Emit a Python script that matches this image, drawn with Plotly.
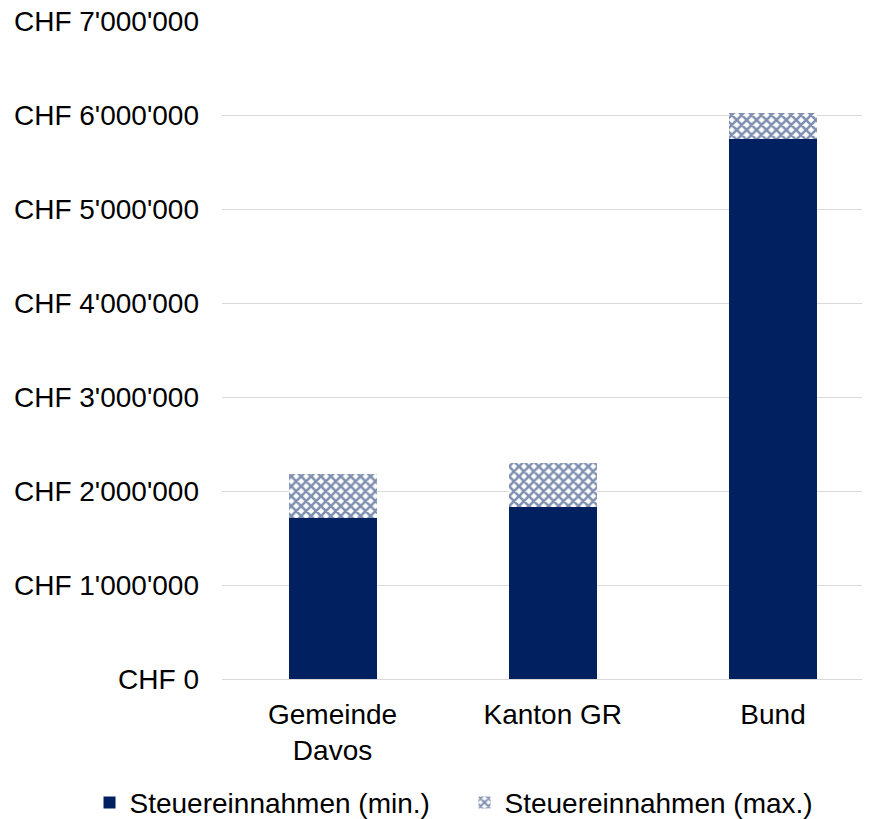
import plotly.graph_objects as go

categories = ["Gemeinde<br>Davos", "Kanton GR", "Bund"]
steuer_min = [1710000, 1830000, 5750000]
steuer_max_extra = [470000, 470000, 270000]
tick_vals = [0, 1000000, 2000000, 3000000, 4000000, 5000000, 6000000, 7000000]
tick_text = ["CHF 0", "CHF 1'000'000", "CHF 2'000'000", "CHF 3'000'000",
             "CHF 4'000'000", "CHF 5'000'000", "CHF 6'000'000", "CHF 7'000'000"]

navy = "#002060"
fig = go.Figure()
fig.add_trace(go.Bar(x=categories, y=steuer_min, name="Steuereinnahmen (min.)", width=0.4,
                     marker=dict(color=navy, line=dict(width=0))))
fig.add_trace(go.Bar(x=categories, y=steuer_max_extra, name="Steuereinnahmen (max.)", width=0.4,
                     marker=dict(color="white", line=dict(width=0),
                                 pattern=dict(shape="x", fgcolor=navy, bgcolor="white",
                                              size=7, solidity=0.6, fillmode="overlay"))))

fig.update_layout(
    barmode="stack",
    width=874, height=819,
    margin=dict(l=222, r=12, t=21, b=140, autoexpand=False),
    plot_bgcolor="white", paper_bgcolor="white",
    font=dict(family="Liberation Sans, Arial, sans-serif", size=28, color="#000000"),
    yaxis=dict(range=[0, 7000000], tickvals=tick_vals, ticktext=tick_text,
               showgrid=True, gridcolor="#d9d9d9", gridwidth=1.3, zeroline=False,
               ticks="", ticklabelstandoff=22, automargin=False),
    xaxis=dict(range=[-0.502, 2.404], showline=True, linecolor="#d9d9d9", linewidth=1.3,
               ticks="", ticklabelstandoff=10, automargin=False),
    legend=dict(orientation="h", x=-0.207, xanchor="left", y=-0.188, yanchor="middle",
                font=dict(size=28), itemwidth=30, traceorder="normal",
                entrywidth=330, entrywidthmode="pixels"),
)
fig.write_html("out.html", config={"displayModeBar": False},
               post_script="document.body.style.margin='0';document.body.style.overflow='hidden';")
